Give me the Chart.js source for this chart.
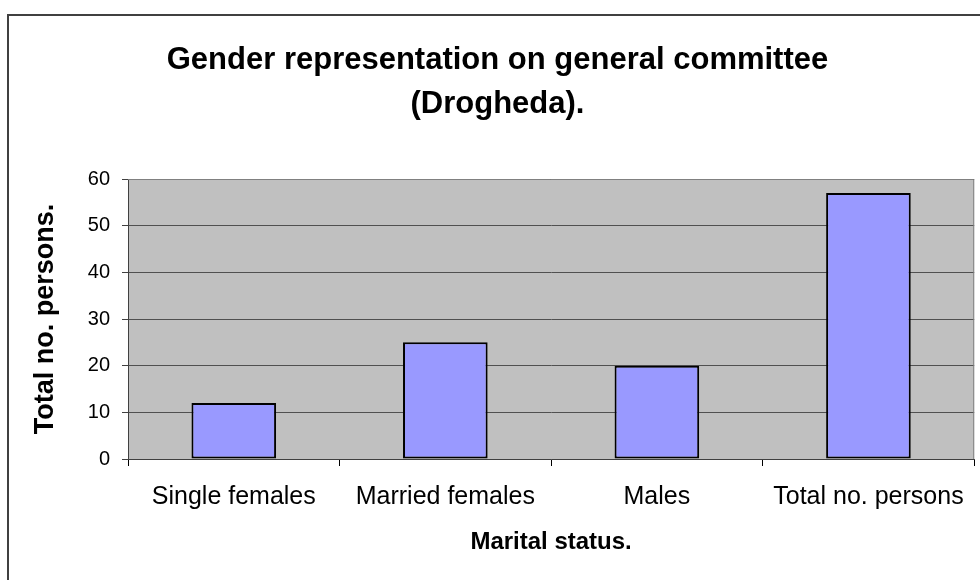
<!DOCTYPE html>
<html>
<head>
<meta charset="utf-8">
<title>Gender representation on general committee (Drogheda)</title>
<script src="https://cdn.jsdelivr.net/npm/chart.js@4.4.0/dist/chart.umd.min.js"></script>
<style>
  html, body { margin: 0; padding: 0; background: #fff; }
  #wrap { width: 980px; height: 580px; overflow: hidden; }
</style>
</head>
<body>
<div id="wrap"><canvas id="chart" width="980" height="580"></canvas></div>
<script>
// data
const categories = ["Single females", "Married females", "Males", "Total no. persons"];
const personCounts = [12, 25, 20, 57];
const yMin = 0;
const yMax = 60;
const yStep = 10;

const FONT = "'Liberation Sans', Arial, sans-serif";

// grey plot background + the outer frame (only left/top edges are inside the picture)
const frame = {
  id: "frame",
  beforeDraw(chart) {
    const { ctx, chartArea: a } = chart;
    ctx.save();
    ctx.fillStyle = "#c0c0c0";
    ctx.fillRect(a.left, a.top, a.right - a.left, a.bottom - a.top);
    ctx.strokeStyle = "#404040";
    ctx.lineWidth = 2;
    ctx.beginPath();
    ctx.moveTo(8, 600);
    ctx.lineTo(8, 15);
    ctx.lineTo(1000, 15);
    ctx.stroke();
    ctx.restore();
  },
  afterDatasetsDraw(chart) {
    const { ctx, chartArea: a } = chart;
    ctx.save();
    ctx.strokeStyle = "#808080";
    ctx.lineWidth = 1;
    ctx.beginPath();
    ctx.moveTo(a.left, a.top + 0.5);
    ctx.lineTo(a.right - 0.5, a.top + 0.5);
    ctx.lineTo(a.right - 0.5, a.bottom);
    ctx.stroke();
    ctx.restore();
  }
};

const ctx = document.getElementById("chart").getContext("2d");
new Chart(ctx, {
  type: "bar",
  data: {
    labels: categories,
    datasets: [
      {
        label: "Total no. persons",
        data: personCounts,
        backgroundColor: "#9999ff",
        borderColor: "#000000",
        borderWidth: 2,
        borderSkipped: false,
        categoryPercentage: 1,
        barPercentage: 0.4,
      },
    ],
  },
  options: {
    responsive: false,
    animation: false,
    layout: { padding: { left: 18, right: 3, top: 38, bottom: 11 } },
    plugins: {
      legend: { display: false },
      tooltip: { enabled: false },
      title: {
        display: true,
        text: ["Gender representation on general committee", "(Drogheda)."],
        color: "#000",
        font: { family: FONT, size: 31, weight: "bold", lineHeight: "44px" },
        padding: { top: 0, bottom: 53 },
      },
    },
    scales: {
      x: {
        offset: true,
        afterFit: (s) => { s.height = 110; },
        grid: {
          offset: true,
          drawOnChartArea: false,
          drawTicks: true,
          tickLength: 7,
          color: "#000",
          lineWidth: 1,
        },
        border: { display: true, color: "#404040", width: 1 },
        ticks: {
          color: "#000",
          padding: 16,
          maxRotation: 0,
          autoSkip: false,
          font: { family: FONT, size: 25 },
        },
        title: {
          display: true,
          text: "Marital status.",
          color: "#000",
          font: { family: FONT, size: 24, weight: "bold" },
          padding: { top: 0, bottom: 12 },
        },
      },
      y: {
        min: yMin,
        max: yMax,
        afterFit: (s) => { s.width = 110; },
        grid: {
          color: "#505050",
          lineWidth: 1,
          tickLength: 6,
          tickColor: "#404040",
        },
        border: { display: true, color: "#404040", width: 1 },
        ticks: {
          stepSize: yStep,
          color: "#000",
          padding: 12,
          font: { family: FONT, size: 20 },
        },
        title: {
          display: true,
          text: "Total no. persons.",
          color: "#000",
          font: { family: FONT, size: 27, weight: "bold" },
          padding: { top: 11, bottom: 0 },
        },
      },
    },
  },
  plugins: [frame],
});
</script>
</body>
</html>
